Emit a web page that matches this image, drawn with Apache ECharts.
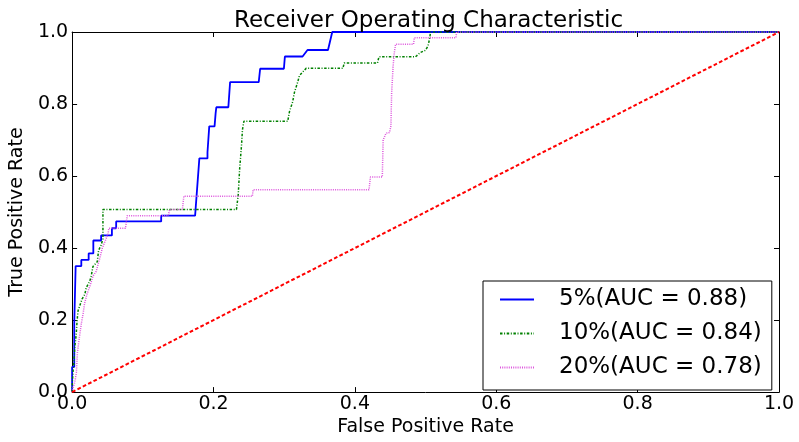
<!DOCTYPE html>
<html>
<head>
<meta charset="utf-8">
<script src="https://cdn.jsdelivr.net/npm/echarts@6/dist/echarts.min.js"></script>
<style>
  html, body { margin: 0; padding: 0; background: #fff; }
  #chart { width: 799px; height: 442px; }
</style>
</head>
<body>
<div id="chart"></div>
<script>
// ROC curves for three sampling rates (false positive rate vs true positive rate)
const seriesLabels = ['5%(AUC = 0.88)', '10%(AUC = 0.84)', '20%(AUC = 0.78)'];
const tickValues = [0, 0.2, 0.4, 0.6, 0.8, 1.0];

const fpr5 = [0, 0, 0.003, 0.003, 0.005, 0.005, 0.013, 0.013, 0.0234, 0.0234, 0.03, 0.03, 0.041, 0.041, 0.0563, 0.0563, 0.0623, 0.0623, 0.126, 0.126, 0.174, 0.18, 0.1915, 0.1915, 0.194, 0.194, 0.2015, 0.203, 0.204, 0.221, 0.2235, 0.264, 0.266, 0.2996, 0.301, 0.326, 0.333, 0.362, 0.368, 1];
const tpr5 = [0, 0.07, 0.07, 0.19, 0.19, 0.35, 0.35, 0.367, 0.367, 0.385, 0.385, 0.421, 0.421, 0.435, 0.435, 0.455, 0.455, 0.474, 0.474, 0.49, 0.49, 0.649, 0.649, 0.666, 0.666, 0.738, 0.738, 0.774, 0.791, 0.791, 0.861, 0.861, 0.898, 0.898, 0.932, 0.932, 0.95, 0.95, 1, 1];

const fpr10 = [0, 0.0003, 0.0014, 0.0028, 0.0038, 0.0052, 0.006, 0.0066, 0.0075, 0.0084, 0.014, 0.018, 0.02, 0.025, 0.027, 0.0295, 0.0356, 0.0375, 0.041, 0.0436, 0.0436, 0.2325, 0.235, 0.237, 0.2396, 0.241, 0.243, 0.305, 0.3075, 0.312, 0.3146, 0.319, 0.3216, 0.331, 0.383, 0.385, 0.432, 0.434, 0.4857, 0.488, 0.4927, 0.4997, 0.5035, 0.505, 0.506, 0.507, 1];
const tpr10 = [0, 0.027, 0.059, 0.09, 0.127, 0.149, 0.167, 0.186, 0.208, 0.226, 0.258, 0.272, 0.29, 0.308, 0.322, 0.349, 0.362, 0.394, 0.408, 0.426, 0.507, 0.507, 0.548, 0.62, 0.684, 0.729, 0.752, 0.752, 0.779, 0.806, 0.833, 0.86, 0.879, 0.899, 0.899, 0.914, 0.914, 0.931, 0.931, 0.934, 0.943, 0.949, 0.961, 0.975, 0.984, 1, 1];

const fpr20 = [0, 0.0014, 0.0038, 0.006, 0.0075, 0.0098, 0.0117, 0.013, 0.0155, 0.0175, 0.021, 0.026, 0.0295, 0.034, 0.039, 0.0426, 0.048, 0.0506, 0.052, 0.0755, 0.078, 0.136, 0.138, 0.156, 0.158, 0.255, 0.256, 0.42, 0.422, 0.4388, 0.44, 0.444, 0.449, 0.451, 0.452, 0.454, 0.4555, 0.4575, 0.483, 0.484, 0.543, 0.544, 1];
const tpr20 = [0, 0.014, 0.027, 0.054, 0.109, 0.145, 0.172, 0.19, 0.217, 0.245, 0.272, 0.299, 0.322, 0.335, 0.371, 0.399, 0.426, 0.437, 0.455, 0.455, 0.49, 0.49, 0.507, 0.507, 0.544, 0.544, 0.562, 0.562, 0.597, 0.597, 0.70, 0.719, 0.721, 0.739, 0.83, 0.902, 0.938, 0.966, 0.966, 0.984, 0.984, 1, 1];

// chance line
const chanceX = [0, 1];
const chanceY = [0, 1];

const zip = (xs, ys) => xs.map((x, i) => [x, ys[i]]);

const FONT = 'DejaVu Sans';
const chart = echarts.init(document.getElementById('chart'), null, { renderer: 'canvas' });

const frameAxis = (pos, showLabel, extra) => Object.assign({
  type: 'value',
  position: pos,
  min: tickValues[0],
  max: tickValues[tickValues.length - 1],
  interval: 0.2,
  axisLine: { show: true, onZero: false, lineStyle: { color: '#000', width: 1 } },
  axisTick: { show: true, inside: true, length: 5, lineStyle: { color: '#000', width: 1 } },
  splitLine: { show: false },
  axisLabel: {
    show: showLabel,
    formatter: v => v.toFixed(1),
    color: '#000',
    fontFamily: FONT,
    fontSize: 19
  }
}, extra || {});

chart.setOption({
  animation: false,
  backgroundColor: '#fff',
  title: {
    text: 'Receiver Operating Characteristic',
    left: 423.5,
    textAlign: 'center',
    top: 5,
    textStyle: { fontFamily: FONT, fontSize: 23, fontWeight: 'normal', color: '#000' }
  },
  grid: { left: 68, right: 20, top: 32, bottom: 42, containLabel: false },
  xAxis: [
    frameAxis('bottom', true, {
      name: 'False Positive Rate',
      nameLocation: 'middle',
      nameGap: 25,
      nameTextStyle: { fontFamily: FONT, fontSize: 19, color: '#000', verticalAlign: 'top' },
      axisLabel: { show: true, formatter: v => v.toFixed(1), color: '#000', fontFamily: FONT, fontSize: 19, margin: 2 }
    }),
    frameAxis('top', false)
  ],
  yAxis: [
    frameAxis('left', true, {
      name: 'True Positive Rate',
      nameLocation: 'middle',
      nameRotate: 90,
      nameGap: 34,
      nameTextStyle: { fontFamily: FONT, fontSize: 19, color: '#000' },
      axisLabel: { show: true, formatter: v => v.toFixed(1), color: '#000', fontFamily: FONT, fontSize: 19, margin: 4 }
    }),
    frameAxis('right', false)
  ],
  legend: {
    data: seriesLabels,
    orient: 'vertical',
    left: 483,
    top: 281,
    itemWidth: 34,
    itemHeight: 14,
    itemGap: 11,
    padding: [7, 10, 11, 16],
    backgroundColor: '#fff',
    borderColor: '#000',
    borderWidth: 1,
    borderRadius: 0,
    // line-only keys: hide the marker drawn in the middle of each key
    itemStyle: { opacity: 0 },
    textStyle: { fontFamily: FONT, fontSize: 23, color: '#000', padding: [0, 0, 0, 20] }
  },
  series: [
    {
      name: seriesLabels[0], type: 'line', data: zip(fpr5, tpr5),
      symbol: 'none', xAxisIndex: 0, yAxisIndex: 0,
      lineStyle: { color: '#0000ff', width: 1.8, type: 'solid' },
      itemStyle: { color: '#0000ff' }
    },
    {
      name: seriesLabels[1], type: 'line', data: zip(fpr10, tpr10),
      symbol: 'none', xAxisIndex: 0, yAxisIndex: 0,
      lineStyle: { color: '#008000', width: 1.5, type: [2.5, 1.6, 1, 1.6] },
      itemStyle: { color: '#008000' }
    },
    {
      name: seriesLabels[2], type: 'line', data: zip(fpr20, tpr20),
      symbol: 'none', xAxisIndex: 0, yAxisIndex: 0,
      lineStyle: { color: '#dd55dd', width: 1.5, type: [1, 1.2] },
      itemStyle: { color: '#dd55dd' }
    },
    {
      name: 'chance', type: 'line', data: zip(chanceX, chanceY),
      symbol: 'none', xAxisIndex: 0, yAxisIndex: 0,
      lineStyle: { color: '#ff0000', width: 2, type: [3.7, 2.3] },
      itemStyle: { color: '#ff0000' }
    }
  ]
});
</script>
</body>
</html>
